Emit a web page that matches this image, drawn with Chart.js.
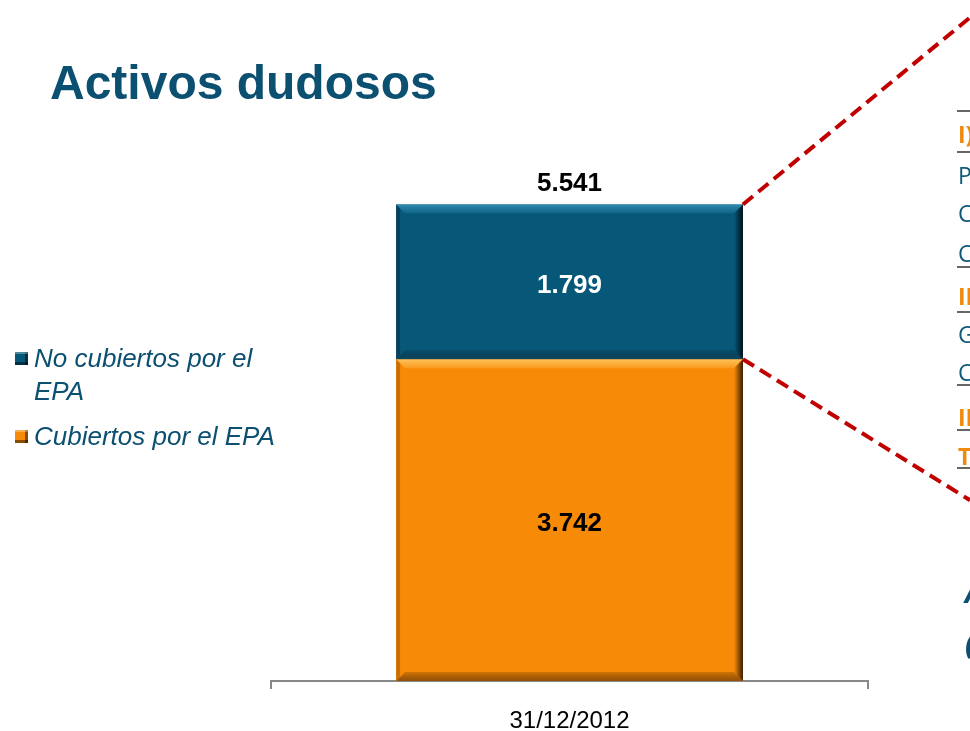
<!DOCTYPE html>
<html>
<head>
<meta charset="utf-8">
<script src="https://cdn.jsdelivr.net/npm/chart.js@4.4.1/dist/chart.umd.min.js"></script>
<style>
  html, body { margin: 0; padding: 0; background: #ffffff; }
  #wrap { position: relative; width: 970px; height: 731px; }
</style>
</head>
<body>
<div id="wrap"><canvas id="c" width="970" height="731"></canvas></div>
<script>
// ---- Data ----
const TITLE = 'Activos dudosos';
const categories = ['31/12/2012'];
const seriesNames = ['Cubiertos por el EPA', 'No cubiertos por el EPA'];
const cubiertos = [3742];
const noCubiertos = [1799];
const yMax = 6000;

// Partially visible table text on the right edge (cut off in the original)
const sideRows = [
  { text: 'I)', kind: 'head' },
  { text: 'P', kind: 'row' },
  { text: 'C', kind: 'row' },
  { text: 'C', kind: 'row' },
  { text: 'II', kind: 'head' },
  { text: 'G', kind: 'row' },
  { text: 'C', kind: 'row' },
  { text: 'II', kind: 'head' },
  { text: 'T', kind: 'head' }
];
const sideNotes = ['A', '('];

// ---- Styles ----
const BLUE = '#075878';
const ORANGE = '#F78B07';
const TITLE_BLUE = '#0B4F71';
const RED = '#C00000';

function fmt(v) {
  return String(v).replace(/\B(?=(\d{3})+(?!\d))/g, '.');
}

const bevelPlugin = {
  id: 'bevel',
  afterDatasetsDraw(chart) {
    const ctx = chart.ctx;
    const palettes = [
      { top: ['#FFC25A', '#F99A1E'], left: 'rgba(120,60,0,0.35)', right: ['rgba(60,30,0,0.0)', 'rgba(40,20,0,0.95)'], bottom: ['rgba(90,45,0,0.25)', 'rgba(110,60,10,0.75)'] },
      { top: ['#2E8AAE', '#0E6386'], left: 'rgba(0,30,50,0.35)', right: ['rgba(0,20,30,0.0)', 'rgba(0,10,15,0.95)'], bottom: ['rgba(0,30,45,0.2)', 'rgba(20,60,80,0.7)'] }
    ];
    chart.data.datasets.forEach((ds, di) => {
      const meta = chart.getDatasetMeta(di);
      const p = palettes[di];
      meta.data.forEach(el => {
        const w = el.width;
        const l = el.x - w / 2, r = el.x + w / 2;
        const t = Math.min(el.y, el.base), b = Math.max(el.y, el.base);
        const s = 9;
        ctx.save();
        let g = ctx.createLinearGradient(0, t, 0, t + s);
        g.addColorStop(0, p.top[0]); g.addColorStop(1, p.top[1]);
        ctx.fillStyle = g;
        ctx.beginPath(); ctx.moveTo(l, t); ctx.lineTo(r, t); ctx.lineTo(r - s, t + s); ctx.lineTo(l + s, t + s); ctx.closePath(); ctx.fill();
        ctx.fillStyle = p.left;
        ctx.beginPath(); ctx.moveTo(l, t); ctx.lineTo(l + 4, t + 4); ctx.lineTo(l + 4, b - 4); ctx.lineTo(l, b); ctx.closePath(); ctx.fill();
        g = ctx.createLinearGradient(0, b - s, 0, b);
        g.addColorStop(0, p.bottom[0]); g.addColorStop(1, p.bottom[1]);
        ctx.fillStyle = g;
        ctx.beginPath(); ctx.moveTo(l, b); ctx.lineTo(r, b); ctx.lineTo(r - s, b - s); ctx.lineTo(l + s, b - s); ctx.closePath(); ctx.fill();
        g = ctx.createLinearGradient(r - s, 0, r, 0);
        g.addColorStop(0, p.right[0]); g.addColorStop(1, p.right[1]);
        ctx.fillStyle = g;
        ctx.beginPath(); ctx.moveTo(r, t); ctx.lineTo(r, b); ctx.lineTo(r - s, b - s); ctx.lineTo(r - s, t + s); ctx.closePath(); ctx.fill();
        ctx.restore();
      });
    });
  }
};

const labelsPlugin = {
  id: 'labels',
  afterDraw(chart) {
    const ctx = chart.ctx;
    ctx.save();
    // Title
    ctx.fillStyle = TITLE_BLUE;
    ctx.font = 'bold 48px "Liberation Sans", Arial, sans-serif';
    ctx.textAlign = 'left';
    ctx.textBaseline = 'alphabetic';
    ctx.fillText(TITLE, 50, 99);

    // Segment labels
    ctx.font = 'bold 26px "Liberation Sans", Arial, sans-serif';
    ctx.textAlign = 'center';
    const colors = ['#000000', '#FFFFFF'];
    chart.data.datasets.forEach((ds, di) => {
      const meta = chart.getDatasetMeta(di);
      meta.data.forEach((el, i) => {
        const mid = (el.y + el.base) / 2;
        ctx.fillStyle = colors[di];
        ctx.fillText(fmt(ds.data[i]), el.x, mid + 11);
      });
    });
    // Totals
    const topMeta = chart.getDatasetMeta(chart.data.datasets.length - 1);
    topMeta.data.forEach((el, i) => {
      const total = chart.data.datasets.reduce((a, ds) => a + ds.data[i], 0);
      ctx.fillStyle = '#000000';
      ctx.fillText(fmt(total), el.x, el.y - 13);
    });

    // Red dashed connector lines
    const el0 = topMeta.data[0];
    const right = el0.x + el0.width / 2;
    const botEl = chart.getDatasetMeta(0).data[0];
    ctx.strokeStyle = RED;
    ctx.lineWidth = 4;
    ctx.setLineDash([13, 7]);
    ctx.beginPath();
    ctx.moveTo(right, el0.y);
    ctx.lineTo(chart.width, el0.y - 187);
    ctx.stroke();
    ctx.beginPath();
    ctx.moveTo(right, botEl.y);
    ctx.lineTo(chart.width, botEl.y + 141);
    ctx.stroke();
    ctx.setLineDash([]);

    // Legend (custom, wrapped)
    ctx.textAlign = 'left';
    ctx.font = 'italic 26px "Liberation Sans", Arial, sans-serif';
    const legendOrder = [1, 0];
    const legendBaselines = [367, 445];
    legendOrder.forEach((di, k) => {
      const ds = chart.data.datasets[di];
      const words = ds.label.split(' ');
      const lines = [];
      let cur = '';
      words.forEach(w => {
        const test = cur ? cur + ' ' + w : w;
        if (ctx.measureText(test).width > 262 && cur) { lines.push(cur); cur = w; } else { cur = test; }
      });
      lines.push(cur);
      const y0 = legendBaselines[k];
      const mx = 15, my = y0 - 15, ms = 13;
      ctx.fillStyle = ds.backgroundColor;
      ctx.fillRect(mx, my, ms, ms);
      ctx.fillStyle = 'rgba(0,0,0,0.45)';
      ctx.fillRect(mx + ms - 3, my, 3, ms);
      ctx.fillRect(mx, my + ms - 3, ms, 3);
      ctx.fillStyle = 'rgba(255,255,255,0.3)';
      ctx.fillRect(mx, my, ms, 2);
      ctx.fillStyle = TITLE_BLUE;
      lines.forEach((ln, j) => {
        ctx.fillText(ln, 34, y0 + j * 33);
      });
    });

    // Right-edge cut-off table
    const rowBaselines = [143, 184, 222, 262, 305, 343, 381, 426, 465];
    sideRows.forEach((r, i) => {
      if (r.kind === 'head') {
        ctx.font = 'bold 23px "Open Sans", "Noto Sans", sans-serif';
        ctx.fillStyle = '#F08A0C';
      } else {
        ctx.font = '23px "Open Sans", "Noto Sans", sans-serif';
        ctx.fillStyle = '#0F5A7A';
      }
      ctx.fillText(r.text, 958, rowBaselines[i]);
    });
    ctx.strokeStyle = '#333333';
    ctx.lineWidth = 1.5;
    [111, 152, 267, 312, 385, 430, 468].forEach(y => {
      ctx.beginPath(); ctx.moveTo(957, y); ctx.lineTo(970, y); ctx.stroke();
    });
    ctx.font = 'italic bold 30px "Open Sans", "Noto Sans", sans-serif';
    ctx.fillStyle = '#0B4F72';
    ctx.fillText(sideNotes[0], 965, 603);
    ctx.fillText(sideNotes[1], 965, 654);
    ctx.restore();
  }
};

new Chart(document.getElementById('c'), {
  type: 'bar',
  data: {
    labels: categories,
    datasets: [
      { label: seriesNames[0], data: cubiertos, backgroundColor: ORANGE, borderWidth: 0 },
      { label: seriesNames[1], data: noCubiertos, backgroundColor: BLUE, borderWidth: 0 }
    ]
  },
  options: {
    responsive: false,
    animation: false,
    devicePixelRatio: 1,
    layout: { padding: { left: 271, right: 102, top: 165, bottom: 0 } },
    plugins: { legend: { display: false }, tooltip: { enabled: false }, title: { display: false } },
    datasets: { bar: { barPercentage: 0.581, categoryPercentage: 1.0 } },
    scales: {
      x: {
        stacked: true,
        grid: { display: true, drawOnChartArea: false, drawTicks: true, tickLength: 8, color: '#888888', lineWidth: 2, offset: true },
        border: { display: true, color: '#888888', width: 2 },
        ticks: { color: '#000000', font: { family: '"Liberation Sans", Arial, sans-serif', size: 24 }, padding: 18 },
        afterFit(scale) { scale.height = 50; }
      },
      y: {
        stacked: true,
        display: false,
        min: 0,
        max: yMax
      }
    }
  },
  plugins: [bevelPlugin, labelsPlugin]
});
</script>
</body>
</html>
